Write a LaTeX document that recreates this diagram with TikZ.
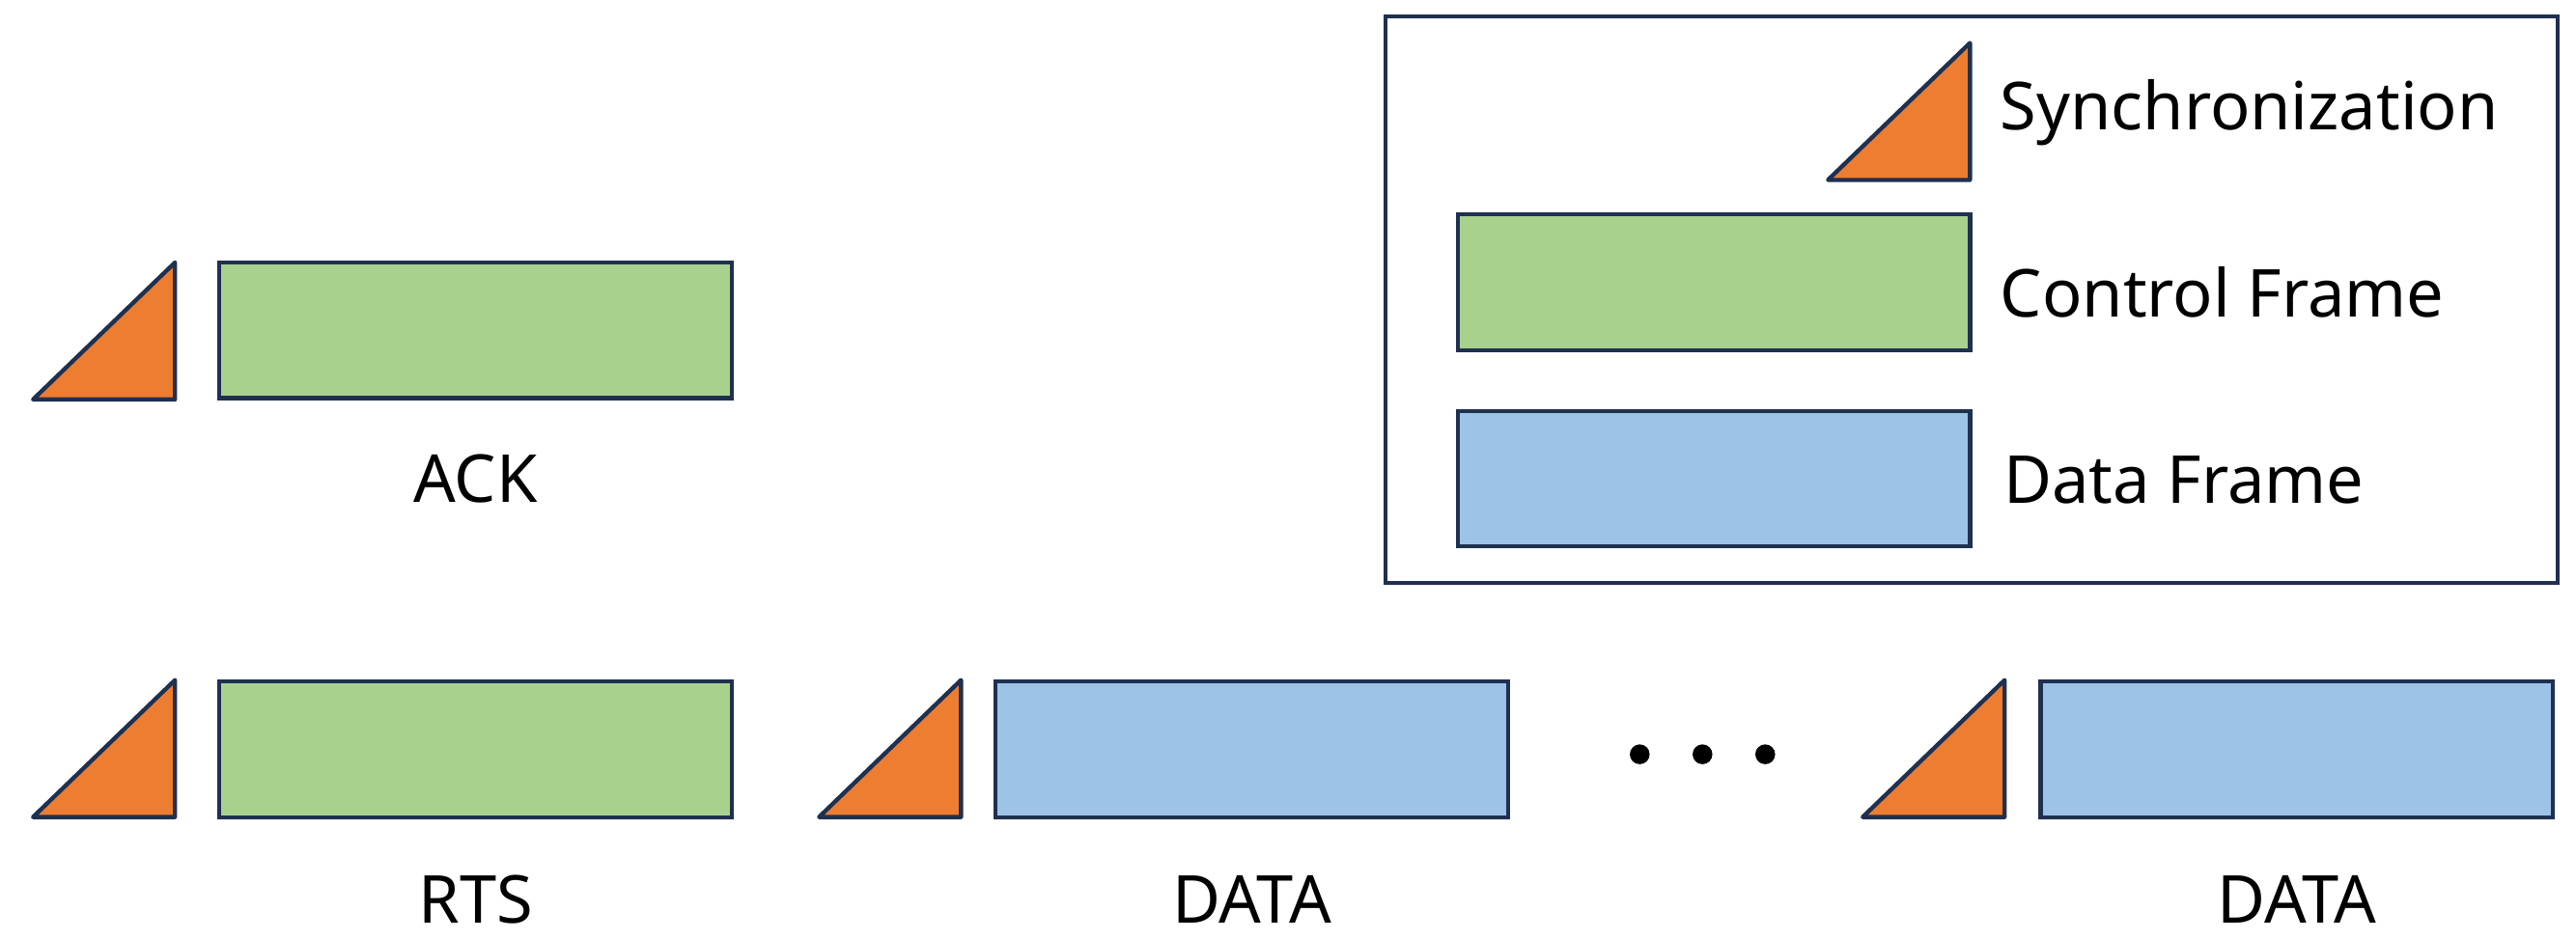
\documentclass[tikz,border=0pt]{standalone}
\usepackage{fontspec}
\setmainfont{Noto Sans}
\usetikzlibrary{positioning}
\definecolor{syncorange}{HTML}{ED7D31}
\definecolor{ctrlgreen}{HTML}{A9D18E}
\definecolor{datablue}{HTML}{9DC3E6}
\definecolor{edgenavy}{HTML}{1F3050}
\tikzset{
  frame/.style={draw=edgenavy, line width=1.2pt, minimum width=5.17cm, minimum height=1.37cm, inner sep=0pt},
  ctrl/.style={frame, fill=ctrlgreen},
  data/.style={frame, fill=datablue},
  sync/.style={draw=edgenavy, line width=1.2pt, fill=syncorange, line join=round},
  lbl/.style={font=\fontsize{19}{22}\selectfont}
}
\begin{document}
\begin{tikzpicture}[x=0.01667cm, y=-0.01667cm]
\useasboundingbox (0,0) rectangle (1560,569);
% Sync triangles
\foreach \x/\y in {20/242, 20/495, 496/495, 1128/495, 1107/109}
    \draw[sync] (\x,\y) -- ++(86,0) -- ++(0,-83) -- cycle;
% Frames
\node[ctrl] (ack) at (288,200) {};
\node[ctrl] (rts) at (288,454) {};
\node[data] (data1) at (758,454) {};
\node[data] (data2) at (1391,454) {};
% Frame labels
\node[lbl] at (288,290) {ACK};
\node[lbl] at (288,545) {RTS};
\node[lbl] at (758,545) {DATA};
\node[lbl] at (1391,545) {DATA};
% Dots
\foreach \x in {993,1031,1069}
    \fill (\x,457) circle (6);
% Legend
\draw[edgenavy, line width=1.2pt] (839,10) rectangle (1549,353);
\node[ctrl] (legctrl) at (1038,171) {};
\node[data] (legdata) at (1038,290) {};
\node[lbl, anchor=west] at (1204,68) {Synchronization};
\node[lbl, anchor=west] at (1204,177) {Control Frame};
\node[lbl, anchor=west] at (1206,291) {Data Frame};
\end{tikzpicture}
\end{document}
